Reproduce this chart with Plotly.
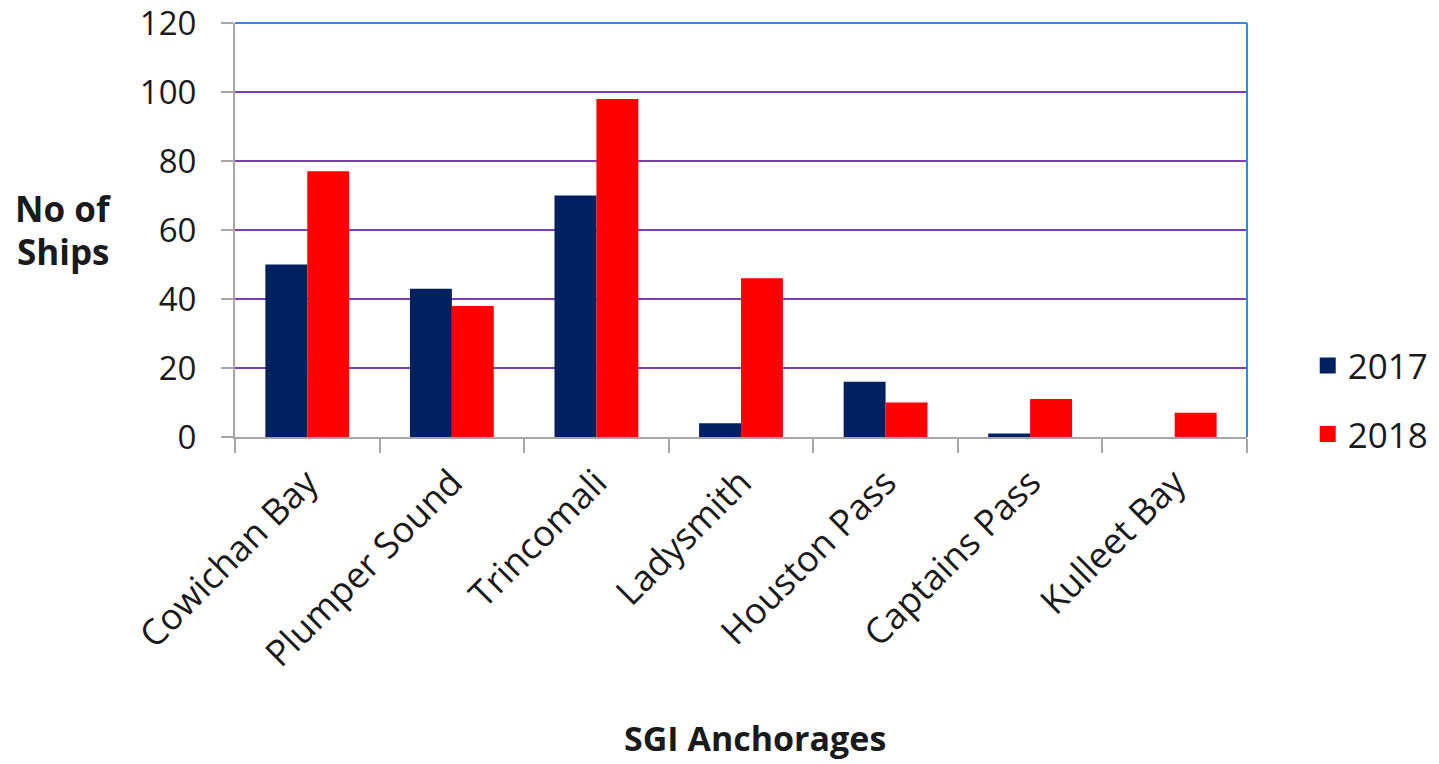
import plotly.graph_objects as go

categories = ["Cowichan Bay", "Plumper Sound", "Trincomali", "Ladysmith",
              "Houston Pass", "Captains Pass", "Kulleet Bay"]
ships_2017 = [50, 43, 70, 4, 16, 1, 0]
ships_2018 = [77, 38, 98, 46, 10, 11, 7]
y_ticks = [0, 20, 40, 60, 80, 100, 120]

NAVY = "#002060"
RED = "#FF0000"
FONT = "Open Sans"

fig = go.Figure()
fig.add_trace(go.Bar(x=categories, y=ships_2017, name="2017", marker_color=NAVY,
                     marker_line_width=0, showlegend=False))
fig.add_trace(go.Bar(x=categories, y=ships_2018, name="2018", marker_color=RED,
                     marker_line_width=0, showlegend=False))
# legend entries with larger square markers
fig.add_trace(go.Scatter(x=[None], y=[None], mode="markers", name="2017",
                         marker=dict(symbol="square", size=22, color=NAVY),
                         legendgroup="a"))
fig.add_trace(go.Scatter(x=[None], y=[None], mode="markers", name="2018",
                         marker=dict(symbol="square", size=22, color=RED),
                         legendgroup="b"))

fig.update_layout(
    width=1439, height=764,
    margin=dict(l=227, r=200, t=15, b=335),
    plot_bgcolor="white", paper_bgcolor="white",
    barmode="group", bargap=0.42, bargroupgap=0,
    font=dict(family=FONT, size=33, color="#1a1a1a"),
    legend=dict(x=1.06, y=0.09, xanchor="left", yanchor="middle",
                font=dict(size=35), tracegroupgap=20, traceorder="grouped",
                itemwidth=30),
    xaxis=dict(
        tickangle=-45, showline=True, linecolor="#A6A6A6", linewidth=2,
        ticks="outside", tickson="boundaries", ticklen=14, tickcolor="#A6A6A6",
        tickwidth=2, tickfont=dict(size=36), showgrid=False, automargin=False,
        ticklabelstandoff=8,
    ),
    yaxis=dict(
        range=[0, 120], tickvals=y_ticks, showline=True, linecolor="#A6A6A6",
        linewidth=2, ticks="outside", ticklen=12, tickcolor="#A6A6A6", tickwidth=2,
        showgrid=True, gridcolor="#7B3FB5", gridwidth=1.5, zeroline=False,
        tickfont=dict(size=33), automargin=False, ticklabeloverflow="allow",
        ticklabelstandoff=18,
    ),
)

# top and right borders (blue)
fig.add_shape(type="line", xref="paper", yref="paper", x0=0, x1=1, y0=1, y1=1,
              line=dict(color="#2E8BDB", width=2))
fig.add_shape(type="line", xref="paper", yref="paper", x0=1, x1=1, y0=0, y1=1,
              line=dict(color="#2E8BDB", width=2))

for txt, yy in (("<b>No of</b>", 0.553), ("<b>Ships</b>", 0.448)):
    fig.add_annotation(text=txt, xref="paper", yref="paper",
                       x=-0.169, y=yy, xanchor="center", yanchor="middle",
                       showarrow=False, font=dict(size=35, family=FONT, color="#1a1a1a"))
fig.add_annotation(text="<b>SGI Anchorages</b>", xref="paper", yref="paper",
                   x=0.514, y=-0.728, xanchor="center", yanchor="middle",
                   showarrow=False, font=dict(size=34, family=FONT, color="#1a1a1a"))

fig.write_html("out.html")
